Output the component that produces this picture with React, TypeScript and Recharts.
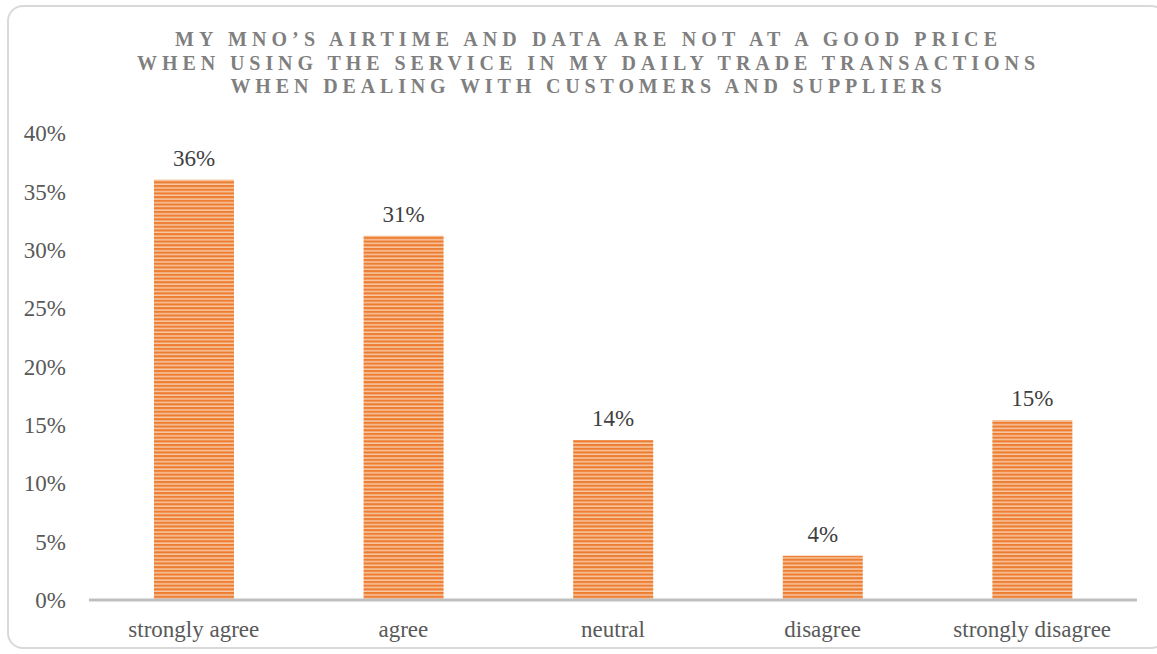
import React from 'react';
import { BarChart, Bar, XAxis, YAxis, LabelList } from 'recharts';

const categories = ['strongly agree', 'agree', 'neutral', 'disagree', 'strongly disagree'];
const values = [36.0, 31.2, 13.7, 3.8, 15.4];
const yTicks = [0, 5, 10, 15, 20, 25, 30, 35, 40];
const titleLines = [
  'MY MNO\u2019S AIRTIME AND DATA ARE NOT AT A GOOD PRICE',
  'WHEN USING THE SERVICE IN MY DAILY TRADE TRANSACTIONS',
  'WHEN DEALING WITH CUSTOMERS AND SUPPLIERS',
];
const titleWidths = [822, 898, 711];

const data = categories.map((c, i) => ({ name: c, value: values[i] }));

const font = '"Liberation Serif", "Times New Roman", serif';

export default function App() {
  return (
    <div style={{ position: 'absolute', left: 0, top: 0, width: 1157, height: 654, background: '#fff', overflow: 'hidden' }}>
      <div
        style={{
          position: 'absolute',
          left: 7,
          top: 5,
          width: 1160,
          height: 644,
          border: '2px solid #d9d9d9',
          borderRadius: 16,
          boxSizing: 'border-box',
        }}
      />
      <svg width={1157} height={110} style={{ position: 'absolute', left: 0, top: 0 }}>
        {titleLines.map((t, i) => (
          <text
            key={i}
            x={586}
            y={46 + i * 23.5}
            textAnchor="middle"
            fontFamily={font}
            fontWeight="bold"
            fontSize={20}
            fill="#7f7f7f"
            textLength={titleWidths[i]}
            lengthAdjust="spacing"
          >
            {t}
          </text>
        ))}
      </svg>
      <div style={{ position: 'absolute', left: 0, top: 0 }}>
        <BarChart
          width={1157}
          height={654}
          data={data}
          margin={{ top: 133, right: 20, bottom: 24, left: 0 }}
          barCategoryGap="31%"
        >
          <defs>
            <pattern id="stripes" patternUnits="userSpaceOnUse" width={8} height={3.7}>
              <rect x={0} y={0} width={8} height={3.7} fill="#f8c9a6" />
              <rect x={0} y={0} width={8} height={2.2} fill="#ed7d31" />
            </pattern>
          </defs>
          <XAxis
            dataKey="name"
            axisLine={{ stroke: '#bfbfbf', strokeWidth: 3 }}
            tickLine={false}
            tickSize={0}
            tickMargin={21}
            tick={{ fill: '#595959', fontSize: 23, fontFamily: font }}
            interval={0}
          />
          <YAxis
            width={89}
            domain={[0, 40]}
            ticks={yTicks}
            axisLine={false}
            tickLine={false}
            tickSize={0}
            tickMargin={23}
            tickFormatter={(v: number) => `${v}%`}
            tick={{ fill: '#595959', fontSize: 23, fontFamily: font }}
          />
          <Bar dataKey="value" fill="url(#stripes)" isAnimationActive={false}>
            <LabelList
              dataKey="value"
              position="top"
              offset={14}
              formatter={(v: number) => `${Math.round(v)}%`}
              style={{ fill: '#404040', fontSize: 23, fontFamily: font }}
            />
          </Bar>
        </BarChart>
      </div>
    </div>
  );
}
